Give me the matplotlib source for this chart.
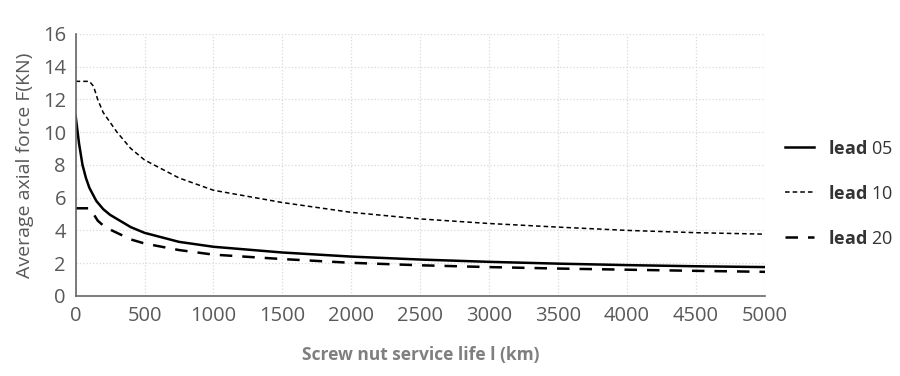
import matplotlib.pyplot as plt

plt.rcParams['font.family'] = ['Open Sans', 'DejaVu Sans']
plt.rcParams['mathtext.fontset'] = 'custom'
plt.rcParams['mathtext.bf'] = 'Open Sans:bold'
plt.rcParams['mathtext.rm'] = 'Open Sans'

# service life (km)
life_05 = [0, 25, 50, 75, 100, 150, 200, 250, 300, 400, 500, 750, 1000, 1500, 2000, 2500, 3000, 3500, 4000, 4500, 5000]
force_05 = [11.0, 9.3, 8.0, 7.2, 6.6, 5.8, 5.3, 4.95, 4.7, 4.2, 3.85, 3.3, 3.0, 2.65, 2.4, 2.22, 2.08, 1.97, 1.88, 1.81, 1.76]

life_10 = [0, 100, 130, 160, 200, 250, 300, 400, 500, 750, 1000, 1500, 2000, 2500, 3000, 3500, 4000, 4500, 5000]
force_10 = [13.1, 13.1, 12.8, 12.0, 11.2, 10.6, 10.0, 9.0, 8.3, 7.2, 6.45, 5.7, 5.1, 4.7, 4.42, 4.2, 4.0, 3.86, 3.77]

life_20 = [0, 100, 130, 160, 200, 250, 300, 400, 500, 750, 1000, 1500, 2000, 2500, 3000, 3500, 4000, 4500, 5000]
force_20 = [5.35, 5.35, 5.0, 4.6, 4.3, 4.05, 3.85, 3.45, 3.2, 2.8, 2.52, 2.25, 2.02, 1.87, 1.76, 1.67, 1.6, 1.53, 1.47]

labels = [r'$\bf{lead}$ 05', r'$\bf{lead}$ 10', r'$\bf{lead}$ 20']

fig = plt.figure(figsize=(9, 3.76), dpi=100)
ax = fig.add_axes([0.084, 0.213, 0.766, 0.697])

ax.plot(life_05, force_05, color='black', lw=1.8, label=labels[0])
ax.plot(life_10, force_10, color='black', lw=1.1, dashes=(3, 2), label=labels[1])
ax.plot(life_20, force_20, color='black', lw=1.8, dashes=(5, 4), label=labels[2])

ax.set_xlim(0, 5000)
ax.set_ylim(0, 16)
ax.set_xticks(range(0, 5001, 500))
ax.set_yticks(range(0, 17, 2))
ax.grid(True, color='#d9d9d9', ls=':', lw=0.9)
for s in ['top', 'right']:
    ax.spines[s].set_visible(False)
for s in ['left', 'bottom']:
    ax.spines[s].set_color('#666666')
    ax.spines[s].set_linewidth(1.2)
ax.tick_params(length=0, labelsize=14.5, labelcolor='#595959', pad=7)

ax.set_xlabel('Screw nut service life l (km)', fontsize=12.5, fontweight='bold', color='#7f7f7f', labelpad=15)
ax.set_ylabel('Average axial force F(KN)', fontsize=14, color='#595959', labelpad=6)

leg = ax.legend(loc='center left', bbox_to_anchor=(1.005, 0.39), frameon=False,
                fontsize=13, handlelength=1.6, labelspacing=1.5)
for t in leg.get_texts():
    t.set_color('#333333')

fig.savefig('out.png', dpi=100)
